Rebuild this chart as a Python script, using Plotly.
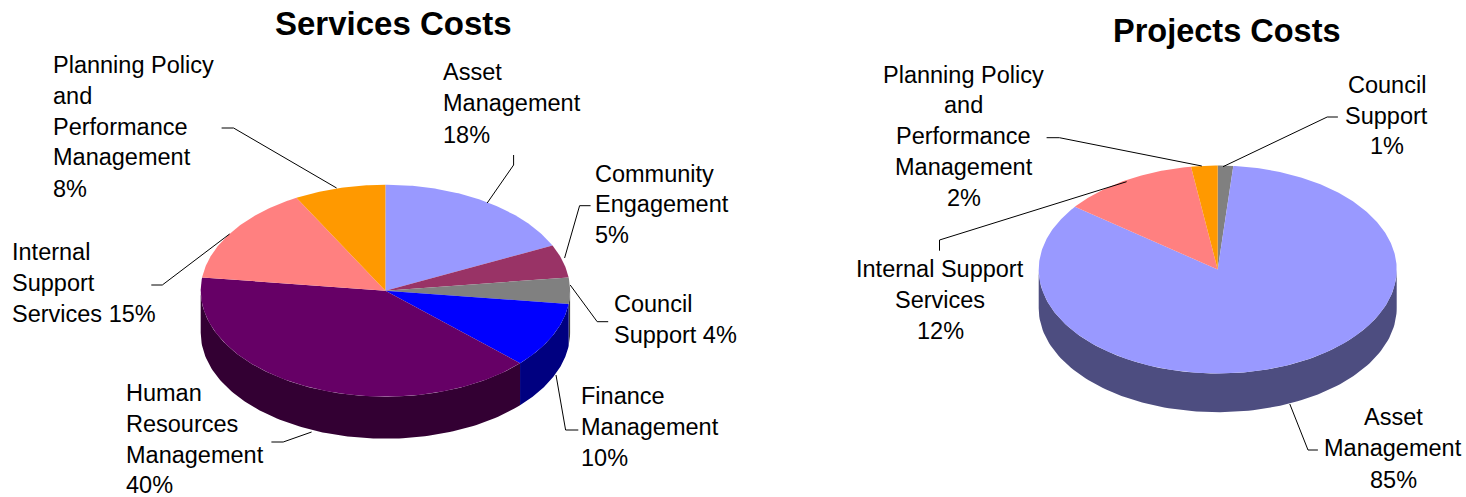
import numpy as np
import plotly.graph_objects as go

# ---- data ----
services_categories = ["Asset Management", "Community Engagement", "Council Support", "Finance Management",
                       "Human Resources Management", "Internal Support Services",
                       "Planning Policy and Performance Management"]
services_values = [18, 5, 4, 10, 40, 15, 8]
services_colors = ["#9999ff", "#993366", "#808080", "#0000ff", "#660066", "#ff8080", "#ff9900"]
services_sides = ["#4d4d80", "#4d1a33", "#404040", "#000080", "#330033", "#804040", "#804d00"]

projects_categories = ["Council Support", "Asset Management", "Internal Support Services",
                       "Planning Policy and Performance Management"]
projects_values = [1.4, 84.5, 12.4, 2.4]
projects_colors = ["#808080", "#9999ff", "#ff8080", "#ff9900"]
projects_sides = ["#404040", "#4d4d80", "#804040", "#804d00"]

# ---- layout constants (pixels) ----
W, H = 1466, 497
FONT = "Liberation Sans"
LABEL_SIZE = 23.5
TITLE_SIZE = 33


def pie_traces(cats, vals, colors, sides, cx, cy, rx, ry, depth):
    """Tilted pie drawn from the values: ellipse top plus an extruded front wall."""
    total = float(sum(vals))
    edges = np.concatenate([[0.0], np.cumsum(vals)]) / total * 2 * np.pi
    walls, tops = [], []
    for i, cat in enumerate(cats):
        a0, a1 = edges[i], edges[i + 1]
        lo, hi = max(a0, np.pi / 2), min(a1, 3 * np.pi / 2)
        if hi > lo:
            t = np.linspace(lo, hi, 120)
            xs = cx + rx * np.sin(t)
            ys = cy - ry * np.cos(t)
            walls.append(go.Scatter(
                x=np.concatenate([xs, xs[::-1]]),
                y=np.concatenate([ys, ys[::-1] + depth]),
                mode="lines", fill="toself", fillcolor=sides[i],
                line=dict(width=0), name=cat, hoverinfo="skip"))
        t = np.linspace(a0, a1, max(int((a1 - a0) * 90), 8))
        tops.append(go.Scatter(
            x=np.concatenate([[cx], cx + rx * np.sin(t), [cx]]),
            y=np.concatenate([[cy], cy - ry * np.cos(t), [cy]]),
            mode="lines", fill="toself", fillcolor=colors[i],
            line=dict(width=0), name=cat, hoverinfo="name"))
    return walls + tops


fig = go.Figure()
fig.add_traces(pie_traces(services_categories, services_values, services_colors, services_sides,
                          385.4, 290.7, 184.7, 106, 42))
fig.add_traces(pie_traces(projects_categories, projects_values, projects_colors, projects_sides,
                          1217.7, 269.5, 179, 104, 38.7))

# label blocks: (anchor x, alignment, [(line, centre y), ...])
label_blocks = [
    (51.2, "left", [("Planning Policy", 65), ("and", 96), ("Performance", 126.5), ("Management", 157), ("8%", 188.5)]),
    (441, "left", [("Asset", 72), ("Management", 103), ("18%", 135)]),
    (593.4, "left", [("Community", 173.5), ("Engagement", 204), ("5%", 234.5)]),
    (611.6, "left", [("Council", 304), ("Support 4%", 334.5)]),
    (9.6, "left", [("Internal", 252), ("Support", 283), ("Services 15%", 314)]),
    (123.6, "left", [("Human", 393), ("Resources", 424), ("Management", 455), ("40%", 484.5)]),
    (578.6, "left", [("Finance", 396), ("Management", 427), ("10%", 458)]),
    (963.7, "center", [("Planning Policy", 75), ("and", 105), ("Performance", 136), ("Management", 167), ("2%", 197.5)]),
    (1386.8, "center", [("Council", 85), ("Support", 115.5), ("1%", 146)]),
    (940.3, "center", [("Internal Support", 269), ("Services", 300), ("12%", 330.5)]),
    (1393, "center", [("Asset", 417), ("Management", 448), ("85%", 480)]),
]

annotations = [
    dict(x=393, y=23, text="<b>Services Costs</b>", showarrow=False, xanchor="center", yanchor="middle",
         font=dict(family=FONT, size=TITLE_SIZE, color="black")),
    dict(x=1227, y=31, text="<b>Projects Costs</b>", showarrow=False, xanchor="center", yanchor="middle",
         font=dict(family=FONT, size=32.5, color="black")),
]
for ax, align, lines in label_blocks:
    for text, ay in lines:
        annotations.append(dict(x=ax, y=ay, text=text, showarrow=False, xanchor=align, yanchor="middle",
                                font=dict(family=FONT, size=LABEL_SIZE, color="black")))

leaders = [
    "M221.6,128 L233.6,128 L336.6,188",
    "M513.6,155 L513.6,165 L487.2,203",
    "M590.6,205.7 L579.6,205.7 L564.6,258",
    "M570.2,285 L597.2,321.7 L608.2,321.7",
    "M556,375 L565.6,430 L578.3,430",
    "M271.4,442 L283.2,442 L311.6,432",
    "M151.3,285 L162.3,285 L229.6,234",
    "M1337.9,117 L1327.2,117 L1223,166.7",
    "M1046.6,137.7 L1059.4,137.7 L1201.8,166",
    "M939.5,250.7 L939.5,240 L1126.6,181.7",
    "M1289.8,404 L1308,450 L1317.9,450",
]
shapes = [dict(type="path", path=p, xref="x", yref="y", line=dict(color="black", width=1), layer="above")
          for p in leaders]

fig.update_layout(
    width=W, height=H, autosize=False, showlegend=False,
    margin=dict(l=0, r=0, t=0, b=0),
    paper_bgcolor="white", plot_bgcolor="white",
    xaxis=dict(range=[0, W], visible=False, fixedrange=True),
    yaxis=dict(range=[H, 0], visible=False, fixedrange=True),
    annotations=annotations, shapes=shapes,
)
fig.write_html("out.html", config=dict(displayModeBar=False),
               post_script="document.documentElement.style.overflow='hidden';document.body.style.margin='0';document.body.style.overflow='hidden';")
